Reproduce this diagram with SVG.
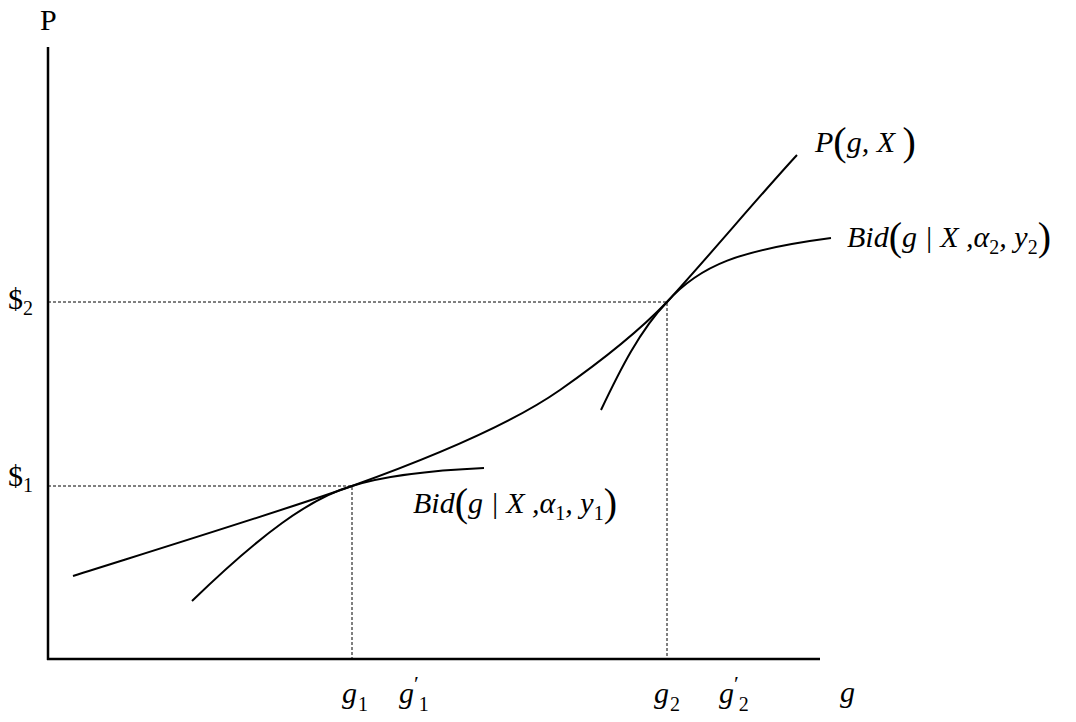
<svg xmlns="http://www.w3.org/2000/svg" width="1076" height="722" viewBox="0 0 1076 722">
<style>
.ax{stroke:#000;stroke-width:2.5;fill:none}
.cv{stroke:#000;stroke-width:2;fill:none}
.dt{stroke:#000;stroke-width:1;stroke-dasharray:3,2;fill:none}
.i{font-style:italic}
.s{font-size:20px;font-style:normal}
.p{font-size:40px;font-style:normal}
.n{font-style:normal}
</style>
<rect width="1076" height="722" fill="#fff"/>
<g id="axes">
<line class="ax" x1="48" y1="47" x2="48" y2="660"/>
<line class="ax" x1="47" y1="659" x2="820" y2="659"/>
</g>
<g id="connectors">
<path class="dt" d="M48,302 H667 V659"/>
<path class="dt" d="M48,486 H352 V659"/>
<path id="P-curve" class="cv" d="M73,576 C200,536 300,505 352,486 C430,458 510,425 560,390 C610,355 640,330 667,302 C710,255 760,195 797,155"/>
<path id="Bid1-curve" class="cv" d="M192,601 C260,535 310,498 352,486 C390,474 440,470 484,468"/>
<path id="Bid2-curve" class="cv" d="M601,410 C620,370 640,330 667,302 C700,265 740,250 831,238"/>
</g>
<g id="labels" font-family="'Liberation Serif', 'Times New Roman', serif" font-size="30" fill="#000">
<text x="40" y="30">P</text>
<text x="8" y="309">$<tspan class="s" dy="6">2</tspan></text>
<text x="8" y="486">$<tspan class="s" dy="6">1</tspan></text>
<text class="i" x="840" y="702">g</text>
<text class="i" x="815" y="152">P<tspan class="p" dy="3">(</tspan><tspan dy="-3">g, X </tspan><tspan class="p" dy="3">)</tspan></text>
<text class="i" x="847" y="247">Bid<tspan class="p" dy="3">(</tspan><tspan dy="-3">g | X ,α</tspan><tspan class="s" dy="7">2</tspan><tspan dy="-7">, y</tspan><tspan class="s" dy="7">2</tspan><tspan class="p" dy="-4">)</tspan></text>
<text class="i" x="413" y="513">Bid<tspan class="p" dy="3">(</tspan><tspan dy="-3">g | X ,α</tspan><tspan class="s" dy="7">1</tspan><tspan dy="-7">, y</tspan><tspan class="s" dy="7">1</tspan><tspan class="p" dy="-4">)</tspan></text>
<text class="i" x="342" y="703">g<tspan class="s" dy="8" dx="1">1</tspan></text>
<text class="i" x="399" y="703">g<tspan class="n" font-size="22" dy="-12">′</tspan><tspan class="s" dy="20">1</tspan></text>
<text class="i" x="654" y="703">g<tspan class="s" dy="8" dx="1">2</tspan></text>
<text class="i" x="719" y="703">g<tspan class="n" font-size="22" dy="-12">′</tspan><tspan class="s" dy="20">2</tspan></text>
</g>
</svg>
